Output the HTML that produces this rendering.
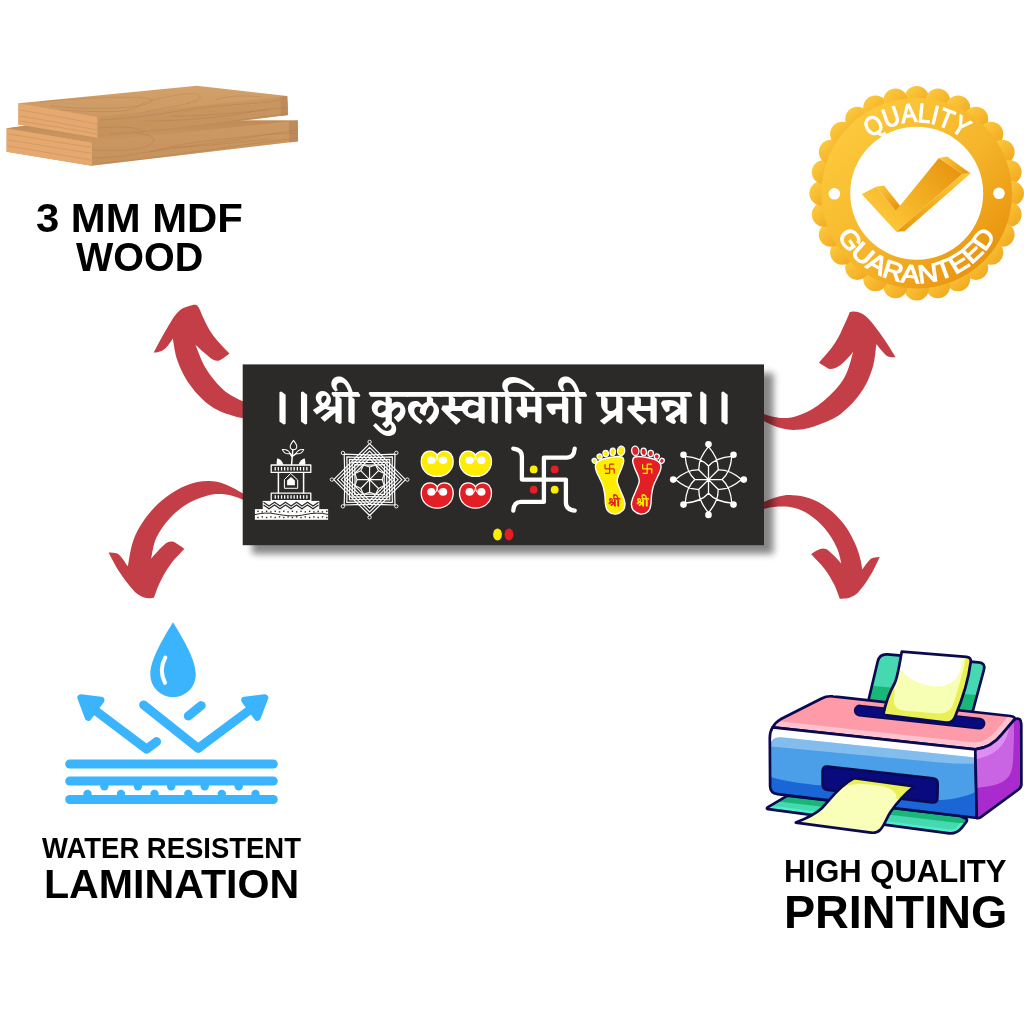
<!DOCTYPE html>
<html lang="mr">
<head>
<meta charset="utf-8">
<title>Kulswamini Name Plate - Features</title>
<style>
html,body{margin:0;padding:0;background:#fff;}
body{width:1024px;height:1024px;overflow:hidden;position:relative;}
svg{display:block;position:absolute;left:0;top:0;will-change:transform;}
.lbl{font-family:"Liberation Sans",sans-serif;font-weight:700;fill:#000;}
.dev{font-family:"Liberation Sans","Eczar","Kadwa","Noto Serif Devanagari","Noto Sans Devanagari","Mukta","Lohit Devanagari","FreeSans",sans-serif;font-weight:700;}
.bdg{font-family:"Liberation Sans",sans-serif;font-weight:700;fill:#fff;}
</style>
</head>
<body>
<svg width="1024" height="1024" viewBox="0 0 1024 1024">
<defs>
<linearGradient id="bg1" gradientUnits="userSpaceOnUse" x1="845" y1="120" x2="990" y2="265"><stop offset="0" stop-color="#fdca3d"/><stop offset="0.55" stop-color="#f5b52a"/><stop offset="1" stop-color="#e7920c"/></linearGradient>
<linearGradient id="bg2" x1="0.15" y1="0.15" x2="0.85" y2="0.85"><stop offset="0" stop-color="#fcc83d"/><stop offset="1" stop-color="#f1ab22"/></linearGradient>
<linearGradient id="ck1" gradientUnits="userSpaceOnUse" x1="880" y1="225" x2="950" y2="160"><stop offset="0" stop-color="#fdc93a"/><stop offset="1" stop-color="#e8950e"/></linearGradient>
<linearGradient id="ck2" gradientUnits="userSpaceOnUse" x1="880" y1="186" x2="898" y2="208"><stop offset="0" stop-color="#fbc437"/><stop offset="1" stop-color="#e8950e"/></linearGradient>
<linearGradient id="ck3" gradientUnits="userSpaceOnUse" x1="943" y1="157" x2="966" y2="174"><stop offset="0" stop-color="#fbc437"/><stop offset="1" stop-color="#e9990f"/></linearGradient>
<linearGradient id="ck4" gradientUnits="userSpaceOnUse" x1="966" y1="174" x2="900" y2="231"><stop offset="0" stop-color="#fcc83a"/><stop offset="1" stop-color="#e9990f"/></linearGradient>
<path id="arcTop" d="M845.3 193.3 A71.4 71.4 0 0 1 988.1 193.3"/>
<path id="arcBot" d="M826.9 193.3 A89.8 89.8 0 0 0 1006.5 193.3"/>
<filter id="sh" x="-5%" y="-10%" width="112%" height="125%"><feGaussianBlur stdDeviation="3.5"/></filter>
<clipPath id="pc1"><path d="M768.4 806.9L787.5 795.6L960 816L965.5 818.4Q968.2 819.6 966.3 822L962.1 827.3Q956.5 834.4 947.6 833.2L768.2 809.2L767.2 808.7Q766.3 808.2 768.4 806.9Z"/></clipPath>
<clipPath id="pc2"><path d="M868.2 701.5L877.7 661.5Q879.5 653.7 887.5 654.4L978.7 662.4Q985.7 663 983.9 669.8L972.3 713L868.2 701.5Z"/></clipPath>
<clipPath id="pc3"><path d="M772.6 727.3Q775.2 722.4 780.5 719.3L821.6 698.5Q827 695.6 833 696.4L1010.5 716Q1016.6 716.9 1013.9 720.2L1001.6 734.6Q991.5 747.5 975.3 749.4Z"/></clipPath>
<clipPath id="pc4"><path d="M772.6 727.3L975.3 749.4L976.8 818L777.5 794.2Q770.4 793.3 770.1 786.5L769.8 738Q769.9 731.7 772.6 727.3Z"/></clipPath>
<clipPath id="pc5"><path d="M975.3 749.4Q991.5 747.5 1001.6 734.6L1013.9 720.2Q1016.5 717.5 1019.5 719.2Q1021.3 720.5 1021.3 724L1021.4 784Q1021.4 787.5 1018.5 789.5L980.5 817.3Q978.5 818.6 976.8 818Z"/></clipPath>
<clipPath id="pc6"><path d="M901.8 651.6L966.5 656.9Q971.8 657.6 970.6 662.5C968.5 680 962 700 955.2 716.5Q952.5 723.2 946 722.5L883.2 714.9C885 706 888.5 694 894.5 683.5C897.5 678 899.5 664 901.8 651.6Z"/></clipPath>
<clipPath id="pc7"><path d="M854.3 778.1L914.3 786.3C904 794.5 896 804 890.5 812C886 819 884.5 825.5 880 830Q876.5 833.4 871 832.6L795.8 822.6C806 818.6 815 814.5 821.5 808.5C830 800.5 838 786.5 854.3 778.1Z"/></clipPath>
<linearGradient id="wd1" x1="0" y1="0" x2="0" y2="1"><stop offset="0" stop-color="#d4a06a"/><stop offset="1" stop-color="#c8945f"/></linearGradient>
<linearGradient id="wd2" x1="0" y1="0" x2="0" y2="1"><stop offset="0" stop-color="#b98556"/><stop offset="1" stop-color="#cb9761"/></linearGradient>
<clipPath id="wc1"><polygon points="18.4,103.3 196.9,85.7 287.2,96 288.1,115.1 96.9,137.7 18.4,124.4"/></clipPath>
<clipPath id="wc2"><polygon points="6.6,128.3 60,121 297.7,120.5 298.1,141.3 91.4,165.8 6.6,151.8"/></clipPath>
</defs>
<rect width="1024" height="1024" fill="#fff"/>
<!-- wood -->
<polygon points="6.6,128.3 60,121 297.7,120.5 298.1,141.3 91.4,165.8 6.6,151.8" fill="url(#wd1)"/>
<polygon points="91.4,142.4 297.7,120.5 298.1,141.3 91.4,165.8" fill="#c18d59" fill-opacity="0.35"/>
<polygon points="6.6,128.3 91.9,142.4 91.9,165.8 6.6,151.8" fill="#e5a96f"/>
<polygon points="6.6,128.3 60,118 297.7,112 297.7,120.5 91.4,142.4 50,135.6" fill="url(#wd2)" clip-path="url(#wc2)"/>
<polygon points="288.9,121.5 297.7,120.5 298.1,141.3 289.3,142.4" fill="#bf8a5b"/>
<g clip-path="url(#wc2)" fill="none" stroke="#9c6c3e" stroke-opacity="0.32" stroke-width="0.7"><path d="M8 140C30 143 60 149 91 153M8 146C35 150 65 156 91 160M8 134C30 137 60 143 91 147M92 158C120 158 150 152 175 146C200 140 250 138 297 130M92 150C125 151 140 150 150 145C160 139 150 134 135 133M150 152C180 146 230 142 260 136C275 133 290 133 297 134M170 147C200 148 240 141 270 139M100 163C150 160 200 150 297 138"/></g>
<polygon points="18.4,103.3 196.9,85.7 287.2,96 288.1,115.1 96.9,137.7 18.4,124.4" fill="url(#wd1)"/>
<polygon points="96.9,116.9 287.2,96 288.1,115.1 96.9,137.7" fill="#c18d59" fill-opacity="0.45"/>
<polygon points="18.4,103.3 97.4,116.9 97.4,137.7 18.4,124.4" fill="#e5a96f"/>
<polygon points="280.4,96.8 287.2,96 288.1,115.1 280.8,116" fill="#bf8a5b"/>
<g clip-path="url(#wc1)" fill="none" stroke="#9c6c3e" stroke-opacity="0.32" stroke-width="0.7"><path d="M20 110C45 114 70 119 97 124M20 116C45 120 70 125 97 130M20 121C45 125 70 129 97 134M40 102C80 98 120 96 145 98C160 100 150 105 130 107C100 110 70 108 50 106M60 110C100 112 125 113 135 108C145 100 165 97 185 94C200 92 205 97 195 101C180 107 160 108 145 112M97 128C120 126 135 127 142 131C148 135 135 139 120 138M100 120C140 118 170 112 200 108C230 104 260 104 280 100M215 100C225 96 245 95 262 97M145 121C180 121 220 118 250 112C265 109 275 108 287 108M170 116C200 117 240 112 270 110M110 134C150 132 200 126 240 120C260 117 275 116 287 113"/></g>
<!-- arrows -->
<path d="M198.6 307.2C198.2 306.8 197.7 305.5 196.8 305.2C195.1 304.7 193.6 304.7 191.9 305.2C187.3 306.6 183.1 307.2 179.6 310.5C173.9 315.7 171.2 321.4 167.2 328C161.9 336.6 156.6 347.3 153.7 352.6C154.7 352.5 156.8 352.4 158.5 352C160.3 351.5 161.7 351.1 163.2 350.1C165.2 348.7 166.5 347.3 168 345.5C169.9 343.1 171.8 340 172.8 338.5C173.8 343.4 174.7 353.3 177.6 361.1C181.1 370.5 184.6 377.7 190.6 385.7C196.8 394.1 202.6 400.1 211.1 406.2C217.8 411 224.2 412.8 232 415.5C238.3 417.6 246.1 418.6 250 419.5L250 404C247 402.7 240.8 400.7 236 398C230.7 395 226.3 392.7 222 388.4C215.3 381.8 210.5 376 205.6 367.9C200.9 360.1 197.6 349.7 195.4 344.7C197.3 346.4 200.8 349.8 204 352.5C207.4 355.3 209.9 358 213.8 360C215.6 360.9 217.4 360.9 219.3 360.4C221.4 359.9 222.7 358.5 224.5 357.3C226.4 356.1 228.4 354.4 229.5 353.6C225.5 349 216.7 340.8 211.1 332.4C205.5 324 201.3 312.6 198.6 307.2Z" fill="#c33e46"/>
<path d="M849.8 311.9C850.7 311.8 852.5 311.3 854 311.4C856.2 311.6 858 311.7 860 312.7C863.1 314.2 865.5 315.6 867.8 318.1C874.2 325.1 878.5 331.2 884 339C888.5 345.3 893.1 353.3 895.6 357.2C894 357 890.6 357.4 888.1 356.4C886 355.6 884.9 354.1 883.4 352.5C880.7 349.6 877.9 345.8 876.4 343.9C875.6 349.1 875.1 359.7 872.5 368.1C869.7 377 866.9 383.9 861.6 391.6C855.5 400.4 849.8 406.8 841.3 413.4C834.3 418.8 827.7 421.3 819.4 424.4C811.8 427.2 805.6 429.2 797.5 429.8C790.7 430.3 785.3 429.4 778.8 427.5C771 425.3 762.5 420.4 758 418.5L758 412.5C763.5 413.7 774 418.2 783.4 418.1C792.1 418 799 415.6 806.9 411.9C815 408.2 820.6 403.8 827.2 397.8C834.3 391.3 839.7 385.8 844.4 377.5C849.2 369 851.4 357.3 853.3 351.7C851.7 353.5 848.8 357.2 846 360C843.4 362.6 841.3 364.8 838.1 366.6C835.6 368 833.2 369 830.3 368.9C828 368.8 826.5 367.3 824.5 366.2C822.5 365.1 820.3 363.5 819.1 362.7C822.5 358.5 830 350.7 835 343.1C839.5 336.3 841.7 330.2 845.2 322.8C847 319 848.8 314.3 849.8 311.9Z" fill="#c33e46"/>
<path d="M250 497.5C244.6 494.6 234.5 487.9 225 484.2C219.1 481.9 214.1 481 207.8 481.1C200.4 481.3 194.4 482.3 187.5 485C179 488.3 172.8 492 165.6 497.5C158 503.3 152.7 508.7 146.9 516.3C141 524 137.1 530.6 133.6 539.7C130.1 548.9 129.1 560.6 127.8 566.3C125.9 563.8 122.7 558.2 118.8 554.5C117.3 553.1 115.5 553.2 113.5 552.8C111.8 552.5 109.7 552.6 108.6 552.5C110.8 556.5 114.6 564.6 118.8 570.9C123.6 578.3 127.8 583.8 133.6 590.5C135.7 592.9 137.8 594.4 140.6 595.9C143.2 597.3 145.5 597.9 148.4 598.3C150.4 598.6 152.7 597.9 153.9 597.8C155.1 594.7 156.9 588.4 159.4 583.4C162.9 576.4 165.7 571 170.3 564.7C174.8 558.5 181.4 552.2 184.4 548.8C183 547.8 180.5 545.8 178.1 544.4C176 543.2 174.3 541.8 171.9 541.6C169.5 541.4 167.4 542.1 165.6 543.6C159.8 548.4 154.2 555.5 151.1 558.8C152.2 554.3 153 545 156.2 538.1C160 530.1 164.3 524.4 170.3 517.8C175.7 511.9 180.7 507.9 187.5 503.8C193.7 499.9 199.3 498.1 206.2 495.9C210.6 494.6 214.2 494.1 218.8 494.1C223.8 494.1 227.9 494.6 232.8 495.9C239.2 497.6 246.3 501.1 250 502.5L250 497.5Z" fill="#c33e46"/>
<path d="M758 504.5C762.3 502.8 770.6 498.7 778.1 496.7C783 495.4 787.1 494.9 792.2 495.2C798.5 495.5 803.5 496.1 809.4 498.3C816.6 500.9 822 503.8 828.1 508.4C834.5 513.2 838.9 517.8 843.8 524.1C848.5 530.3 851.3 535.8 854.7 542.8C857.3 548.2 858.6 552.7 860.2 558.4C861.3 562.3 861.8 567 862.2 569.4C863.9 567.2 866.9 562.4 870.3 559.2C871.6 558 873.2 557.8 875 557.4C876.7 557 878.7 557 879.7 556.9C877.7 560.9 874.2 569.2 870.3 575.6C866.3 582.1 863 587.2 857.8 592.8C855.6 595.2 853 596.1 850 597.5C848.3 598.3 846.8 598.4 845 598.6C843.1 598.8 840.9 598.7 839.8 598.8C838.6 595.8 836.8 589.7 834.4 585C831.4 579.1 828.9 574.6 825 569.4C820.6 563.5 814.2 557.5 811.2 554.2C812.5 553.4 814.9 551.4 817.2 550.3C819.3 549.3 821.1 548.4 823.4 548.4C825.2 548.4 826.7 549.1 828.1 550.3C833.3 554.6 838.5 560.6 841.4 563.4C840.4 560 839.3 552.9 836.7 547.5C833.3 540.3 830.1 534.9 825 528.8C820.2 522.9 815.7 518.9 809.4 514.7C804.3 511.3 799.7 509.2 793.8 507.7C788.3 506.3 783.7 506.2 778.1 506.6C770.8 507.1 762.3 509.3 758 510L758 504.5Z" fill="#c33e46"/>
<!-- plaque -->
<rect x="252" y="373" width="521.6" height="181" fill="#000" opacity="0.47" filter="url(#sh)"/>
<rect x="242.7" y="364.4" width="521.3" height="180.8" fill="#2b2a29"/>
<text class="dev" x="269.5" y="422" font-size="46" style="font-weight:600" fill="#fff" textLength="463.4" lengthAdjust="spacingAndGlyphs">।।श्री कुलस्वामिनी प्रसन्न।।</text>
<g fill="none" stroke="#fff" stroke-width="1.05" stroke-linejoin="round" stroke-linecap="round">
<path d="M293.5 440.4C291.5 443 290.2 444.8 290.2 446.6C290.2 448.6 291.7 449.7 293.5 449.7C295.3 449.7 296.8 448.6 296.8 446.6C296.8 444.8 295.5 443 293.5 440.4Z"/>
<path d="M282.3 449.6C285.5 449.3 288.6 450 290.2 453.6C287 454.3 284 453.3 282.3 449.6Z"/>
<path d="M303.7 449.6C300.5 449.3 297.6 450 296 453.6C299.2 454.3 302 453.3 303.7 449.6Z"/>
<path d="M292.8 449.8L291.6 464.5M290.2 453.6L291.9 456.5M296 453.6L292.2 456.5" stroke-width="1.5"/>
<rect x="271.2" y="465" width="39.6" height="7.4" stroke-width="1.3"/>
<path d="M278.4 472.4V493M303.6 472.4V493" stroke-width="1.5"/>
<rect x="271.2" y="493.2" width="39.6" height="7.4" stroke-width="1.3"/>
<polygon points="291,473.7 297.7,480 297.7,488.3 284.4,488.3 284.4,480" stroke-width="1"/>
</g>
<g fill="#fff">
<polygon points="291,477.1 294.9,480.6 294.9,485.3 287.1,485.3 287.1,480.6"/>
<path d="M276.7 464.7C276.5 461.5 276.8 459.5 277.6 458.2C280.2 459 282.6 461.5 283.4 464.7Z"/>
<path d="M305.3 464.7C305.5 461.5 305.2 459.5 304.4 458.2C301.8 459 299.4 461.5 298.6 464.7Z"/>
<rect x="274.6" y="467" width="1.3" height="3.5"/>
<rect x="274.6" y="495.2" width="1.3" height="3.5"/>
<rect x="277.7" y="467" width="1.3" height="3.5"/>
<rect x="277.7" y="495.2" width="1.3" height="3.5"/>
<rect x="280.9" y="467" width="1.3" height="3.5"/>
<rect x="280.9" y="495.2" width="1.3" height="3.5"/>
<rect x="284" y="467" width="1.3" height="3.5"/>
<rect x="284" y="495.2" width="1.3" height="3.5"/>
<rect x="287.2" y="467" width="1.3" height="3.5"/>
<rect x="287.2" y="495.2" width="1.3" height="3.5"/>
<rect x="290.4" y="467" width="1.3" height="3.5"/>
<rect x="290.4" y="495.2" width="1.3" height="3.5"/>
<rect x="293.5" y="467" width="1.3" height="3.5"/>
<rect x="293.5" y="495.2" width="1.3" height="3.5"/>
<rect x="296.7" y="467" width="1.3" height="3.5"/>
<rect x="296.7" y="495.2" width="1.3" height="3.5"/>
<rect x="299.8" y="467" width="1.3" height="3.5"/>
<rect x="299.8" y="495.2" width="1.3" height="3.5"/>
<rect x="303" y="467" width="1.3" height="3.5"/>
<rect x="303" y="495.2" width="1.3" height="3.5"/>
<rect x="306.2" y="467" width="1.3" height="3.5"/>
<rect x="306.2" y="495.2" width="1.3" height="3.5"/>
<rect x="262.7" y="500.9" width="56.6" height="8.3"/>
<rect x="254.9" y="509.1" width="73.2" height="10.7"/>
</g>
<path d="M263.5 502.3L269 506 L274.5 502.3L280 506 L285.5 502.3L291 506 L296.5 502.3L302 506 L307.5 502.3L313 506 L318.5 502.3M263.5 505L269 508.7 L274.5 505L280 508.7 L285.5 505L291 508.7 L296.5 505L302 508.7 L307.5 505L313 508.7 L318.5 505" fill="none" stroke="#2b2a29" stroke-width="1.25"/>
<path d="M255 514.6C262 513 268 512.4 276 514C286 516 296 516.6 305 514.6C313 512.8 321 512.6 328 514.4" fill="none" stroke="#2b2a29" stroke-width="1"/>
<g fill="#2b2a29"><rect x="257.3" y="510.6" width="1.4" height="1.4"/><rect x="257.3" y="516.8" width="1.4" height="1.4"/><rect x="261.6" y="511.2" width="1.4" height="1.4"/><rect x="261.6" y="516.2" width="1.4" height="1.4"/><rect x="265.9" y="510.6" width="1.4" height="1.4"/><rect x="265.9" y="516.8" width="1.4" height="1.4"/><rect x="270.2" y="511.2" width="1.4" height="1.4"/><rect x="270.2" y="516.2" width="1.4" height="1.4"/><rect x="274.5" y="510.6" width="1.4" height="1.4"/><rect x="274.5" y="516.8" width="1.4" height="1.4"/><rect x="278.8" y="511.2" width="1.4" height="1.4"/><rect x="278.8" y="516.2" width="1.4" height="1.4"/><rect x="283.1" y="510.6" width="1.4" height="1.4"/><rect x="283.1" y="516.8" width="1.4" height="1.4"/><rect x="287.4" y="511.2" width="1.4" height="1.4"/><rect x="287.4" y="516.2" width="1.4" height="1.4"/><rect x="291.7" y="510.6" width="1.4" height="1.4"/><rect x="291.7" y="516.8" width="1.4" height="1.4"/><rect x="296" y="511.2" width="1.4" height="1.4"/><rect x="296" y="516.2" width="1.4" height="1.4"/><rect x="300.3" y="510.6" width="1.4" height="1.4"/><rect x="300.3" y="516.8" width="1.4" height="1.4"/><rect x="304.6" y="511.2" width="1.4" height="1.4"/><rect x="304.6" y="516.2" width="1.4" height="1.4"/><rect x="308.9" y="510.6" width="1.4" height="1.4"/><rect x="308.9" y="516.8" width="1.4" height="1.4"/><rect x="313.2" y="511.2" width="1.4" height="1.4"/><rect x="313.2" y="516.2" width="1.4" height="1.4"/><rect x="317.5" y="510.6" width="1.4" height="1.4"/><rect x="317.5" y="516.8" width="1.4" height="1.4"/><rect x="321.8" y="511.2" width="1.4" height="1.4"/><rect x="321.8" y="516.2" width="1.4" height="1.4"/><rect x="326.1" y="510.6" width="1.4" height="1.4"/><rect x="326.1" y="516.8" width="1.4" height="1.4"/></g>
<g fill="none" stroke="#fff" stroke-width="1.2" stroke-linejoin="round">
<path d="M369.6 443.7Q387.6 461.7 405.5 479.6Q387.6 497.6 369.6 515.5Q351.7 497.6 333.7 479.6Q351.7 461.7 369.6 443.7ZM369.6 447.4Q385.7 463.5 401.8 479.6Q385.7 495.7 369.6 511.8Q353.5 495.7 337.4 479.6Q353.5 463.5 369.6 447.4ZM369.6 451.1Q383.9 465.4 398.1 479.6Q383.9 493.9 369.6 508.1Q355.4 493.9 341.1 479.6Q355.4 465.4 369.6 451.1ZM369.6 454.8Q382 467.2 394.4 479.6Q382 492 369.6 504.4Q357.2 492 344.8 479.6Q357.2 467.2 369.6 454.8ZM369.6 458.5Q380.2 469.1 390.7 479.6Q380.2 490.2 369.6 500.7Q359.1 490.2 348.5 479.6Q359.1 469.1 369.6 458.5Z"/>
<path d="M395 454.2Q393.7 479.6 395 505Q369.6 503.7 344.2 505Q345.5 479.6 344.2 454.2Q369.6 455.5 395 454.2ZM392.4 456.8Q391.2 479.6 392.4 502.4Q369.6 501.2 346.8 502.4Q348 479.6 346.8 456.8Q369.6 458 392.4 456.8ZM389.8 459.4Q388.7 479.6 389.8 499.8Q369.6 498.7 349.4 499.8Q350.5 479.6 349.4 459.4Q369.6 460.5 389.8 459.4ZM387.1 462.1Q386.3 479.6 387.1 497.1Q369.6 496.3 352.1 497.1Q352.9 479.6 352.1 462.1Q369.6 462.9 387.1 462.1ZM384.5 464.7Q383.8 479.6 384.5 494.5Q369.6 493.8 354.7 494.5Q355.4 479.6 354.7 464.7Q369.6 465.4 384.5 464.7Z"/>
<polygon points="369.6,467 375.6,465 378.5,470.7 384.2,473.6 382.2,479.6 384.2,485.6 378.5,488.5 375.6,494.2 369.6,492.2 363.6,494.2 360.7,488.5 355,485.6 357,479.6 355,473.6 360.7,470.7 363.6,465" fill="#2b2a29" stroke-width="1.1"/>
<path d="M369.6 479.6L369.6 467M369.6 479.6L378.5 470.7M369.6 479.6L382.2 479.6M369.6 479.6L378.5 488.5M369.6 479.6L369.6 492.2M369.6 479.6L360.7 488.5M369.6 479.6L357 479.6M369.6 479.6L360.7 470.7" stroke-width="1.1"/>
<circle cx="369.6" cy="441.9" r="1.7" fill="#2b2a29" stroke-width="0.9"/>
<circle cx="396.3" cy="452.9" r="1.7" fill="#2b2a29" stroke-width="0.9"/>
<circle cx="407.3" cy="479.6" r="1.7" fill="#2b2a29" stroke-width="0.9"/>
<circle cx="396.3" cy="506.3" r="1.7" fill="#2b2a29" stroke-width="0.9"/>
<circle cx="369.6" cy="517.3" r="1.7" fill="#2b2a29" stroke-width="0.9"/>
<circle cx="342.9" cy="506.3" r="1.7" fill="#2b2a29" stroke-width="0.9"/>
<circle cx="331.9" cy="479.6" r="1.7" fill="#2b2a29" stroke-width="0.9"/>
<circle cx="342.9" cy="452.9" r="1.7" fill="#2b2a29" stroke-width="0.9"/>
</g>
<circle cx="369.6" cy="479.6" r="1.3" fill="#fff"/>
<path d="M437.2 455.3C435.8 452.5 433 451.1 429.6 451.1C424.6 451.1 421.2 455.5 421.2 461.2C421.2 470.2 427.9 476.4 437.2 476.4C446.5 476.4 453.2 470.2 453.2 461.2C453.2 455.5 449.8 451.1 444.8 451.1C441.4 451.1 438.6 452.5 437.2 455.3Z" fill="#ffed00" stroke="#fff" stroke-width="1.3"/><ellipse cx="431.3" cy="460.2" rx="4.1" ry="3.8" fill="#fff"/><ellipse cx="443.1" cy="460.2" rx="4.1" ry="3.8" fill="#fff"/><path d="M434.6 461.2C436.3 460.8 436.8 458.4 437.2 455.6C437.6 458.4 438.1 460.8 439.8 461.2" fill="none" stroke="#fff" stroke-width="1"/>
<path d="M475.5 455.3C474.1 452.5 471.3 451.1 467.9 451.1C462.9 451.1 459.5 455.5 459.5 461.2C459.5 470.2 466.2 476.4 475.5 476.4C484.8 476.4 491.5 470.2 491.5 461.2C491.5 455.5 488.1 451.1 483.1 451.1C479.7 451.1 476.9 452.5 475.5 455.3Z" fill="#ffed00" stroke="#fff" stroke-width="1.3"/><ellipse cx="469.6" cy="460.2" rx="4.1" ry="3.8" fill="#fff"/><ellipse cx="481.4" cy="460.2" rx="4.1" ry="3.8" fill="#fff"/><path d="M472.9 461.2C474.6 460.8 475.1 458.4 475.5 455.6C475.9 458.4 476.4 460.8 478.1 461.2" fill="none" stroke="#fff" stroke-width="1"/>
<path d="M437.2 487C435.8 484.2 433 482.8 429.6 482.8C424.6 482.8 421.2 487.2 421.2 492.9C421.2 501.9 427.9 508.1 437.2 508.1C446.5 508.1 453.2 501.9 453.2 492.9C453.2 487.2 449.8 482.8 444.8 482.8C441.4 482.8 438.6 484.2 437.2 487Z" fill="#e31e24" stroke="#fff" stroke-width="1.3"/><ellipse cx="431.3" cy="491.9" rx="4.1" ry="3.8" fill="#fff"/><ellipse cx="443.1" cy="491.9" rx="4.1" ry="3.8" fill="#fff"/><path d="M434.6 492.9C436.3 492.5 436.8 490.1 437.2 487.3C437.6 490.1 438.1 492.5 439.8 492.9" fill="none" stroke="#fff" stroke-width="1"/>
<path d="M475.5 487C474.1 484.2 471.3 482.8 467.9 482.8C462.9 482.8 459.5 487.2 459.5 492.9C459.5 501.9 466.2 508.1 475.5 508.1C484.8 508.1 491.5 501.9 491.5 492.9C491.5 487.2 488.1 482.8 483.1 482.8C479.7 482.8 476.9 484.2 475.5 487Z" fill="#e31e24" stroke="#fff" stroke-width="1.3"/><ellipse cx="469.6" cy="491.9" rx="4.1" ry="3.8" fill="#fff"/><ellipse cx="481.4" cy="491.9" rx="4.1" ry="3.8" fill="#fff"/><path d="M472.9 492.9C474.6 492.5 475.1 490.1 475.5 487.3C475.9 490.1 476.4 492.5 478.1 492.9" fill="none" stroke="#fff" stroke-width="1"/>
<path d="M543.9 457.6V501.9M521.9 479.6H565.9M543.9 457.6H566.9Q573.9 457.6 574.7 448.6M565.9 479.6V502.6Q565.9 509.6 574.7 510.6M543.9 501.9H520.9Q513.9 501.9 513.3 510.6M521.9 479.6V456.6Q521.9 449.6 513.3 448.6" fill="none" stroke="#fff" stroke-width="4.3" stroke-linecap="round" stroke-linejoin="round"/>
<circle cx="533.7" cy="469.4" r="3.9" fill="#ffed00"/><circle cx="554.7" cy="469.4" r="3.9" fill="#e31e24"/><circle cx="533.7" cy="489.7" r="3.9" fill="#e31e24"/><circle cx="554.7" cy="489.7" r="3.9" fill="#ffed00"/>
<g><path d="M595.7 464.4C596.8 462.2 598.6 460.8 600.8 459.8C604.4 458.1 607.5 457.7 611.4 457.1C615 456.7 618 456 621.5 457C622.9 457.4 623.6 459 623.7 460.5C623.8 463.1 622.8 465 621.9 467.5C620.8 470.8 619.3 473 618.2 476.3C617.6 478.1 616.9 479.7 617.2 481.6C617.6 484.6 618.9 486.7 620 489.5C621.2 492.7 622.6 495 623.7 498.3C624.4 500.4 625.1 502.2 625 504.4C624.8 506.8 624.4 508.9 622.8 510.6C620.8 512.6 618.6 513.9 615.8 514.1C612.9 514.3 610.4 513.3 608.3 511.4C606.5 509.9 606.1 507.7 605.7 505.3C604.9 501.6 605.3 498.5 604.8 494.8C604.3 491.6 604 489 603 486C601.9 482.7 600.5 480.3 599.1 477.2C597.9 474.7 596.7 472.8 596 470.1C595.5 468.2 594.9 466.3 595.7 464.4Z" fill="#ffed00" stroke="#fff" stroke-width="1.4"/><ellipse cx="621.1" cy="450.8" rx="3.6" ry="4.7" transform="rotate(8 621.1 450.8)" fill="#ffed00" stroke="#fff" stroke-width="1.3"/><ellipse cx="612.7" cy="451.9" rx="2.7" ry="3.7" transform="rotate(4 612.7 451.9)" fill="#ffed00" stroke="#fff" stroke-width="1.3"/><ellipse cx="605.7" cy="453.5" rx="2.7" ry="3.1" transform="rotate(-8 605.7 453.5)" fill="#ffed00" stroke="#fff" stroke-width="1.3"/><ellipse cx="599.6" cy="456.5" rx="2.5" ry="2.6" transform="rotate(-20 599.6 456.5)" fill="#ffed00" stroke="#fff" stroke-width="1.3"/><ellipse cx="594.5" cy="460.8" rx="2.3" ry="2.5" transform="rotate(-30 594.5 460.8)" fill="#ffed00" stroke="#fff" stroke-width="1.3"/></g>
<g transform="translate(1256.4 0) scale(-1 1)"><path d="M595.7 464.4C596.8 462.2 598.6 460.8 600.8 459.8C604.4 458.1 607.5 457.7 611.4 457.1C615 456.7 618 456 621.5 457C622.9 457.4 623.6 459 623.7 460.5C623.8 463.1 622.8 465 621.9 467.5C620.8 470.8 619.3 473 618.2 476.3C617.6 478.1 616.9 479.7 617.2 481.6C617.6 484.6 618.9 486.7 620 489.5C621.2 492.7 622.6 495 623.7 498.3C624.4 500.4 625.1 502.2 625 504.4C624.8 506.8 624.4 508.9 622.8 510.6C620.8 512.6 618.6 513.9 615.8 514.1C612.9 514.3 610.4 513.3 608.3 511.4C606.5 509.9 606.1 507.7 605.7 505.3C604.9 501.6 605.3 498.5 604.8 494.8C604.3 491.6 604 489 603 486C601.9 482.7 600.5 480.3 599.1 477.2C597.9 474.7 596.7 472.8 596 470.1C595.5 468.2 594.9 466.3 595.7 464.4Z" fill="#e31e24" stroke="#fff" stroke-width="1.4"/><ellipse cx="621.1" cy="450.8" rx="3.6" ry="4.7" transform="rotate(8 621.1 450.8)" fill="#e31e24" stroke="#fff" stroke-width="1.3"/><ellipse cx="612.7" cy="451.9" rx="2.7" ry="3.7" transform="rotate(4 612.7 451.9)" fill="#e31e24" stroke="#fff" stroke-width="1.3"/><ellipse cx="605.7" cy="453.5" rx="2.7" ry="3.1" transform="rotate(-8 605.7 453.5)" fill="#e31e24" stroke="#fff" stroke-width="1.3"/><ellipse cx="599.6" cy="456.5" rx="2.5" ry="2.6" transform="rotate(-20 599.6 456.5)" fill="#e31e24" stroke="#fff" stroke-width="1.3"/><ellipse cx="594.5" cy="460.8" rx="2.3" ry="2.5" transform="rotate(-30 594.5 460.8)" fill="#e31e24" stroke="#fff" stroke-width="1.3"/></g>
<path d="M609.6 464.2V473.4M605 468.8H614.2M609.6 464.2H614.2M614.2 468.8V473.4M609.6 473.4H605M605 468.8V464.2" fill="none" stroke="#e31e24" stroke-width="1.2"/>
<path d="M647.2 464.2V473.4M642.6 468.8H651.8M647.2 464.2H651.8M651.8 468.8V473.4M647.2 473.4H642.6M642.6 468.8V464.2" fill="none" stroke="#ffed00" stroke-width="1.2"/>
<text class="dev" x="614" y="506.3" font-size="11.5" text-anchor="middle" fill="#e31e24">श्री</text>
<text class="dev" x="642.4" y="506.3" font-size="11.5" text-anchor="middle" fill="#ffed00">श्री</text>
<g fill="none" stroke="#fff" stroke-width="1.3" stroke-linecap="round">
<path d="M708.5 446.6Q698.2 458.5 698.9 470M708.5 446.6Q718.8 458.5 718.1 470M708.5 479.6L708.5 466M731.8 456.3Q716.2 457.4 708.5 466M731.8 456.3Q730.7 472 722.1 479.6M708.5 479.6L718.1 470M741.5 479.6Q729.6 469.3 718.1 470M741.5 479.6Q729.6 490 718.1 489.3M708.5 479.6L722.1 479.6M731.8 503Q730.7 487.3 722.1 479.6M731.8 503Q716.2 501.9 708.5 493.2M708.5 479.6L718.1 489.3M708.5 512.6Q718.8 500.8 718.1 489.3M708.5 512.6Q698.2 500.8 698.9 489.3M708.5 479.6L708.5 493.2M685.2 503Q700.8 501.9 708.5 493.2M685.2 503Q686.3 487.3 694.9 479.6M708.5 479.6L698.9 489.3M675.5 479.6Q687.4 490 698.9 489.3M675.5 479.6Q687.4 469.3 698.9 470M708.5 479.6L694.9 479.6M685.2 456.3Q686.3 472 694.9 479.6M685.2 456.3Q700.8 457.4 708.5 466M708.5 479.6L698.9 470"/>
</g>
<circle cx="708.5" cy="444.3" r="3.3" fill="#fff"/>
<circle cx="733.5" cy="454.7" r="3.3" fill="#fff"/>
<circle cx="743.8" cy="479.6" r="3.3" fill="#fff"/>
<circle cx="733.5" cy="504.6" r="3.3" fill="#fff"/>
<circle cx="708.5" cy="514.9" r="3.3" fill="#fff"/>
<circle cx="683.5" cy="504.6" r="3.3" fill="#fff"/>
<circle cx="673.2" cy="479.6" r="3.3" fill="#fff"/>
<circle cx="683.5" cy="454.7" r="3.3" fill="#fff"/>
<circle cx="708.5" cy="479.6" r="1.2" fill="#fff"/>
<ellipse cx="497.5" cy="534.6" rx="4.4" ry="6" fill="#ffed00"/><ellipse cx="509" cy="534.6" rx="4.4" ry="6" fill="#e31e24"/>
<!-- badge -->
<circle cx="916.7" cy="98.2" r="12.2" fill="url(#bg2)"/>
<circle cx="937.9" cy="100.6" r="12.2" fill="url(#bg2)"/>
<circle cx="958" cy="107.6" r="12.2" fill="url(#bg2)"/>
<circle cx="976" cy="118.9" r="12.2" fill="url(#bg2)"/>
<circle cx="991.1" cy="134" r="12.2" fill="url(#bg2)"/>
<circle cx="1002.4" cy="152" r="12.2" fill="url(#bg2)"/>
<circle cx="1009.4" cy="172.1" r="12.2" fill="url(#bg2)"/>
<circle cx="1011.8" cy="193.3" r="12.2" fill="url(#bg2)"/>
<circle cx="1009.4" cy="214.5" r="12.2" fill="url(#bg2)"/>
<circle cx="1002.4" cy="234.6" r="12.2" fill="url(#bg2)"/>
<circle cx="991.1" cy="252.6" r="12.2" fill="url(#bg2)"/>
<circle cx="976" cy="267.7" r="12.2" fill="url(#bg2)"/>
<circle cx="958" cy="279" r="12.2" fill="url(#bg2)"/>
<circle cx="937.9" cy="286" r="12.2" fill="url(#bg2)"/>
<circle cx="916.7" cy="288.4" r="12.2" fill="url(#bg2)"/>
<circle cx="895.5" cy="286" r="12.2" fill="url(#bg2)"/>
<circle cx="875.4" cy="279" r="12.2" fill="url(#bg2)"/>
<circle cx="857.4" cy="267.7" r="12.2" fill="url(#bg2)"/>
<circle cx="842.3" cy="252.6" r="12.2" fill="url(#bg2)"/>
<circle cx="831" cy="234.6" r="12.2" fill="url(#bg2)"/>
<circle cx="824" cy="214.5" r="12.2" fill="url(#bg2)"/>
<circle cx="821.6" cy="193.3" r="12.2" fill="url(#bg2)"/>
<circle cx="824" cy="172.1" r="12.2" fill="url(#bg2)"/>
<circle cx="831" cy="152" r="12.2" fill="url(#bg2)"/>
<circle cx="842.3" cy="134" r="12.2" fill="url(#bg2)"/>
<circle cx="857.4" cy="118.9" r="12.2" fill="url(#bg2)"/>
<circle cx="875.4" cy="107.6" r="12.2" fill="url(#bg2)"/>
<circle cx="895.5" cy="100.6" r="12.2" fill="url(#bg2)"/>
<circle cx="916.7" cy="193.3" r="95.3" fill="url(#bg1)"/>
<circle cx="916.7" cy="193.3" r="66.5" fill="#fff"/>
<circle cx="834.4" cy="193.8" r="5.8" fill="#fff"/>
<circle cx="999" cy="193.3" r="5.8" fill="#fff"/>
<polygon points="861.8,194.3 876,186.7 895.7,211.1 938.9,158 962.4,174 896.3,231.7" fill="url(#ck1)"/>
<polygon points="876,186.7 884,185.4 900.1,205.8 895.7,211.1" fill="url(#ck2)"/>
<polygon points="938.9,158 947.1,156.5 970.6,173.6 962.4,174" fill="url(#ck3)"/>
<polygon points="962.4,174 970.6,173.6 904.6,231.2 896.3,231.7" fill="url(#ck4)"/>
<text class="bdg" font-size="26.4" text-anchor="middle" style="font-weight:400" stroke="#fff" stroke-width="1.25" stroke-linejoin="round"><textPath href="#arcTop" startOffset="50%" textLength="99" lengthAdjust="spacingAndGlyphs">QUALITY</textPath></text>
<text class="bdg" font-size="25.6" text-anchor="middle" style="font-weight:400" stroke="#fff" stroke-width="1.15" stroke-linejoin="round"><textPath href="#arcBot" startOffset="50%" textLength="194" lengthAdjust="spacingAndGlyphs">GUARANTEED</textPath></text>
<!-- water -->
<path d="M173 622.2C166 634 150.3 658 150.3 674.5A22.7 22.7 0 0 0 195.8 674.5C195.8 658 180 634 173 622.2Z" fill="#3bb4fe"/>
<path d="M165.3 657.5Q158.5 669.5 165 682.8" fill="none" stroke="#fff" stroke-width="4" stroke-linecap="round"/>
<path d="M69.7 764 H273.3" stroke="#3bb4fe" stroke-width="9" stroke-linecap="round" fill="none"/>
<path d="M69.7 781.1 H273.3" stroke="#3bb4fe" stroke-width="9" stroke-linecap="round" fill="none"/>
<path d="M69.7 799.5 H273.3" stroke="#3bb4fe" stroke-width="9" stroke-linecap="round" fill="none"/>
<circle cx="104.4" cy="786.2" r="4.2" fill="#3bb4fe"/>
<circle cx="137.9" cy="786.2" r="4.2" fill="#3bb4fe"/>
<circle cx="171.2" cy="786.2" r="4.2" fill="#3bb4fe"/>
<circle cx="204.7" cy="786.2" r="4.2" fill="#3bb4fe"/>
<circle cx="238.7" cy="786.2" r="4.2" fill="#3bb4fe"/>
<circle cx="87.5" cy="794" r="4.2" fill="#3bb4fe"/>
<circle cx="121" cy="794" r="4.2" fill="#3bb4fe"/>
<circle cx="154.5" cy="794" r="4.2" fill="#3bb4fe"/>
<circle cx="188.3" cy="794" r="4.2" fill="#3bb4fe"/>
<circle cx="221.8" cy="794" r="4.2" fill="#3bb4fe"/>
<circle cx="255.5" cy="794" r="4.2" fill="#3bb4fe"/>
<path d="M156.6 741.6L146.6 749.1L92 708" stroke="#3bb4fe" stroke-width="9" stroke-linecap="round" stroke-linejoin="round" fill="none"/>
<path d="M80.9 697.8L101 700.2L88.2 717.3Z" stroke="#3bb4fe" stroke-width="7" stroke-linejoin="round" fill="#3bb4fe"/>
<path d="M143.7 704.9L198.1 748.3L253 707.5" stroke="#3bb4fe" stroke-width="9" stroke-linecap="round" stroke-linejoin="round" fill="none"/>
<path d="M264.8 697.8L244.7 700.2L257.3 717.3Z" stroke="#3bb4fe" stroke-width="7" stroke-linejoin="round" fill="#3bb4fe"/>
<path d="M188.3 715.9L201.2 705.6" stroke="#3bb4fe" stroke-width="9" stroke-linecap="round" fill="none"/>
<!-- printer -->
<g clip-path="url(#pc1)"><path d="M768.4 806.9L787.5 795.6L960 816L965.5 818.4Q968.2 819.6 966.3 822L962.1 827.3Q956.5 834.4 947.6 833.2L768.2 809.2L767.2 808.7Q766.3 808.2 768.4 806.9Z" fill="#45d8b1"/><path d="M771 793.5L976.8 818" fill="none" stroke="#19b777" stroke-width="14" stroke-linejoin="round" stroke-linecap="round"/><path d="M956.5 834.4L766 809" fill="none" stroke="#4df0c8" stroke-width="8" stroke-linejoin="round" stroke-linecap="round"/><path d="M962 827Q958 834 950 833.6" fill="none" stroke="#4df0c8" stroke-width="8" stroke-linejoin="round" stroke-linecap="round"/></g><path d="M768.4 806.9L787.5 795.6L960 816L965.5 818.4Q968.2 819.6 966.3 822L962.1 827.3Q956.5 834.4 947.6 833.2L768.2 809.2L767.2 808.7Q766.3 808.2 768.4 806.9Z" fill="none" stroke="#0b0a50" stroke-width="2.7" stroke-linejoin="round"/>
<g clip-path="url(#pc2)"><path d="M868.2 701.5L877.7 661.5Q879.5 653.7 887.5 654.4L978.7 662.4Q985.7 663 983.9 669.8L972.3 713L868.2 701.5Z" fill="#45d8b1"/><path d="M860 684.8L990 696.2L990 720L860 720Z" fill="#19b777"/></g><path d="M868.2 701.5L877.7 661.5Q879.5 653.7 887.5 654.4L978.7 662.4Q985.7 663 983.9 669.8L972.3 713L868.2 701.5Z" fill="none" stroke="#0b0a50" stroke-width="2.7" stroke-linejoin="round"/>
<g clip-path="url(#pc3)"><path d="M772.6 727.3Q775.2 722.4 780.5 719.3L821.6 698.5Q827 695.6 833 696.4L1010.5 716Q1016.6 716.9 1013.9 720.2L1001.6 734.6Q991.5 747.5 975.3 749.4Z" fill="#ff9aa9"/><path d="M765 726.6L975.3 749.4Q991.5 747.5 1001.6 734.6L1016 717" fill="none" stroke="#ffc2ce" stroke-width="13.5" stroke-linejoin="round" stroke-linecap="round"/></g><path d="M772.6 727.3Q775.2 722.4 780.5 719.3L821.6 698.5Q827 695.6 833 696.4L1010.5 716Q1016.6 716.9 1013.9 720.2L1001.6 734.6Q991.5 747.5 975.3 749.4Z" fill="none" stroke="#0b0a50" stroke-width="2.7" stroke-linejoin="round"/>
<g clip-path="url(#pc4)"><path d="M772.6 727.3L975.3 749.4L976.8 818L777.5 794.2Q770.4 793.3 770.1 786.5L769.8 738Q769.9 731.7 772.6 727.3Z" fill="#4a9fe8"/><path d="M760 773C775 780 800 783.5 822 785.5L940 800C955 799.5 968 796 980 790L980 830L760 800Z" fill="#1a66d6"/><path d="M771 746Q771.5 737.5 781 737.2L975.3 757.5L975.3 763.5Q960 764.5 940 762.5L771 746.5Z" fill="#82bdee"/><path d="M771 745Q771 737 781 737.2L975.3 757.6L975.3 748L770 726Z" fill="#ffffff"/></g><path d="M772.6 727.3L975.3 749.4L976.8 818L777.5 794.2Q770.4 793.3 770.1 786.5L769.8 738Q769.9 731.7 772.6 727.3Z" fill="none" stroke="#0b0a50" stroke-width="2.7" stroke-linejoin="round"/>
<g clip-path="url(#pc5)"><path d="M975.3 749.4Q991.5 747.5 1001.6 734.6L1013.9 720.2Q1016.5 717.5 1019.5 719.2Q1021.3 720.5 1021.3 724L1021.4 784Q1021.4 787.5 1018.5 789.5L980.5 817.3Q978.5 818.6 976.8 818Z" fill="#c965e3"/><path d="M974.2 788.4C979.8 787.2 991.4 786.6 1000.2 782.9C1004.9 781 1008.7 778 1010.5 773.3C1013.8 764.5 1013 756.7 1013.6 747.3C1014.3 736.5 1013.8 723.8 1013.9 717.3L1024.8 717.3L1024.8 821.2L974.2 821.2L974.2 788.4Z" fill="#a92bcd"/><path d="M974.2 759.9C978.4 758.4 987.2 756.9 993.4 752.8C998.9 749.2 1002.7 745.1 1005.7 739.1C1009.3 731.9 1010 722 1011.2 717.3L974.2 717.3L974.2 759.9Z" fill="#e08df2"/></g><path d="M975.3 749.4Q991.5 747.5 1001.6 734.6L1013.9 720.2Q1016.5 717.5 1019.5 719.2Q1021.3 720.5 1021.3 724L1021.4 784Q1021.4 787.5 1018.5 789.5L980.5 817.3Q978.5 818.6 976.8 818Z" fill="none" stroke="#0b0a50" stroke-width="2.7" stroke-linejoin="round"/>
<path d="M859.8 710.6L979.4 723.6" fill="none" stroke="#0b0a50" stroke-width="12" stroke-linecap="round"/>
<path d="M859.8 710.6L979.4 723.6" fill="none" stroke="#090a7e" stroke-width="8.8" stroke-linecap="round"/>
<path d="M827.6 766.6L932.8 778.4Q937.8 779 937.7 784L937.4 798Q937.3 803 932.3 802.4L827.6 789.8Q822.6 789.2 822.6 784.2L822.6 771Q822.6 766 827.6 766.6Z" fill="#090a7e" stroke="#0b0a50" stroke-width="2.7" stroke-linejoin="round"/>
<g clip-path="url(#pc6)"><path d="M901.8 651.6L966.5 656.9Q971.8 657.6 970.6 662.5C968.5 680 962 700 955.2 716.5Q952.5 723.2 946 722.5L883.2 714.9C885 706 888.5 694 894.5 683.5C897.5 678 899.5 664 901.8 651.6Z" fill="#e8f055"/><path d="M897.7 648.2L966 655C965.7 657.1 965.2 661.2 964.4 664.6C963.2 670.1 962 674.3 960.6 679.6C958.8 686.1 957.5 691.1 955.4 697.4C954 701.4 953.5 704.9 951 708.4C949.3 710.7 946.9 711.6 944.2 712.7C942.3 713.5 940.7 713.5 938.7 713.4C931.3 713.1 925.6 712.5 918.2 711.8C911.8 711.2 906.7 711.2 900.4 709.7C898.3 709.2 896.8 708.1 895.6 706.3C894.3 704.4 894 702.5 893.8 700.2C893.5 695.7 895.5 692.1 894.3 687.9C893.3 684.7 889.4 682.5 888.1 681L897.7 648.2Z" fill="#f7ffb5"/><path d="M897.7 648.2L964 654.4C963.6 655.7 962.8 658.3 962.2 660.5C960.9 665.4 960.7 669.6 958.5 674.2C957 677.4 955.3 679.9 952.4 681.7C947.9 684.5 943.9 686.4 938.7 686.5C931.2 686.6 925.3 684.9 918.2 682.4C913.3 680.7 910 678 905.9 674.9C903.1 672.8 900.5 669.5 899 668L897.7 648.2Z" fill="#ffffff"/></g><path d="M901.8 651.6L966.5 656.9Q971.8 657.6 970.6 662.5C968.5 680 962 700 955.2 716.5Q952.5 723.2 946 722.5L883.2 714.9C885 706 888.5 694 894.5 683.5C897.5 678 899.5 664 901.8 651.6Z" fill="none" stroke="#0b0a50" stroke-width="2.7" stroke-linejoin="round"/>
<g clip-path="url(#pc7)"><path d="M854.3 778.1L914.3 786.3C904 794.5 896 804 890.5 812C886 819 884.5 825.5 880 830Q876.5 833.4 871 832.6L795.8 822.6C806 818.6 815 814.5 821.5 808.5C830 800.5 838 786.5 854.3 778.1Z" fill="#f9ffb9"/><path d="M842 774.7L919.5 780.2C914.8 784.3 906.8 794.1 897.7 799.3C895.8 800.3 896.9 795.5 895.6 793.8C893.8 791.5 892.3 789.4 889.5 788.4C882.8 785.9 877.1 785.1 870 784.5C862.9 783.9 857.2 783.6 850.2 784.9C844.9 786 839.5 789.8 836.6 791.1L842 774.7Z" fill="#e8f055"/></g><path d="M854.3 778.1L914.3 786.3C904 794.5 896 804 890.5 812C886 819 884.5 825.5 880 830Q876.5 833.4 871 832.6L795.8 822.6C806 818.6 815 814.5 821.5 808.5C830 800.5 838 786.5 854.3 778.1Z" fill="none" stroke="#0b0a50" stroke-width="2.7" stroke-linejoin="round"/>
<!-- labels -->
<text class="lbl" x="35.9" y="232.2" font-size="40.7" textLength="207" lengthAdjust="spacingAndGlyphs">3 MM MDF</text>
<text class="lbl" x="76" y="270.7" font-size="40.7" textLength="127.3" lengthAdjust="spacingAndGlyphs">WOOD</text>
<text class="lbl" x="42.1" y="857.7" font-size="29" textLength="258.9" lengthAdjust="spacingAndGlyphs">WATER RESISTENT</text>
<text class="lbl" x="43.9" y="897.9" font-size="40.7" textLength="255.4" lengthAdjust="spacingAndGlyphs">LAMINATION</text>
<text class="lbl" x="784.1" y="881.7" font-size="31" textLength="222.4" lengthAdjust="spacingAndGlyphs">HIGH QUALITY</text>
<text class="lbl" x="783.9" y="928.1" font-size="47" textLength="223.4" lengthAdjust="spacingAndGlyphs">PRINTING</text>
</svg>
</body>
</html>
